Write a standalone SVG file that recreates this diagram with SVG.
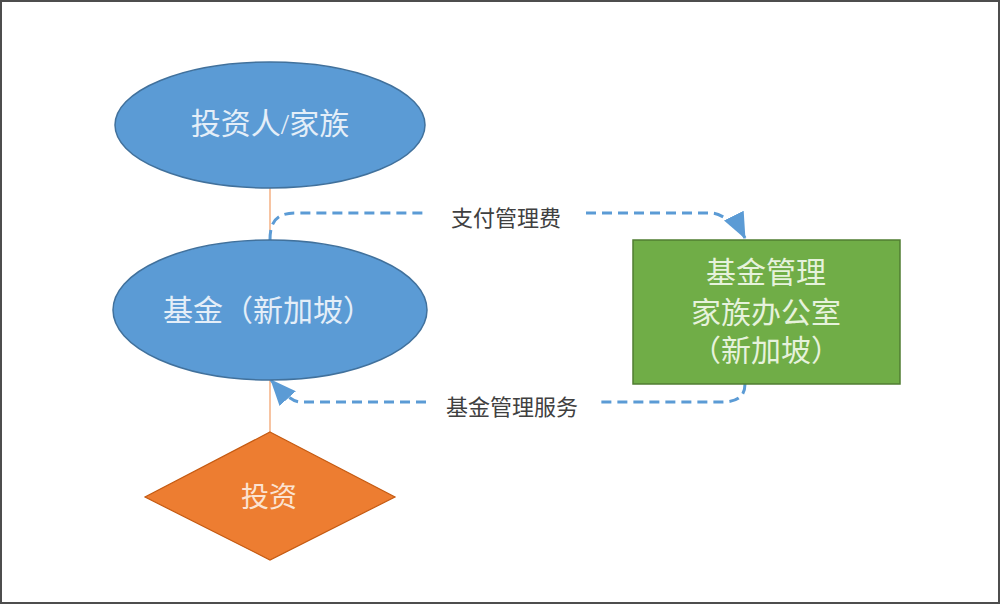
<svg xmlns="http://www.w3.org/2000/svg" width="1000" height="604" viewBox="0 0 1000 604">
  <style>
    .ell { fill: #5B9BD5; stroke: #41719C; stroke-width: 1.5; }
    .nodetext { font-family: "Liberation Serif", "Noto Sans CJK SC", serif; font-size: 30px; fill: #E4EEF8; text-anchor: middle; dominant-baseline: central; }
    .lbl { font-family: "Liberation Serif", "Noto Sans CJK SC", serif; font-size: 22px; fill: #404040; text-anchor: middle; dominant-baseline: central; }
    .dash { fill: none; stroke: #5B9BD5; stroke-width: 3; stroke-dasharray: 10 6; }
    .solid { stroke: #F4B183; stroke-width: 1.5; }
  </style>
  <defs>
    <marker id="arrow" viewBox="0 0 26 22" refX="25" refY="11" markerWidth="26" markerHeight="22" markerUnits="userSpaceOnUse" orient="auto">
      <path d="M0,0 L26,11 L0,22 Z" fill="#5B9BD5"/>
    </marker>
  </defs>
  <rect x="1" y="1" width="998" height="602" fill="#FFFFFF" stroke="#4D4D4D" stroke-width="2"/>

  <g id="connectors">
    <line class="solid" x1="270" y1="188" x2="270" y2="240"/>
    <line class="solid" x1="270" y1="380" x2="270" y2="432"/>
    <path class="dash" d="M270,240 C270,222 276,213 296,213 L428,213"/>
    <path class="dash" d="M586,213 L712,213 C722,213 740,228 745,238" marker-end="url(#arrow)"/>
    <path class="dash" d="M745,384 C745,396 738,402 722,402 L600,402"/>
    <path class="dash" d="M426,402 L300,402 C292,402 280,390 271,380" marker-end="url(#arrow)"/>
    <text class="lbl" x="506" y="218">支付管理费</text>
    <text class="lbl" x="512" y="407">基金管理服务</text>
  </g>

  <g id="investor">
    <ellipse class="ell" cx="270" cy="125" rx="155" ry="63"/>
    <text class="nodetext" x="270" y="123">投资人/家族</text>
  </g>

  <g id="fund">
    <ellipse class="ell" cx="270" cy="310" rx="157" ry="70"/>
    <text class="nodetext" x="268" y="310">基金（新加坡）</text>
  </g>

  <g id="invest">
    <polygon points="270,432 395,497 270,560 145,497" fill="#ED7D31" stroke="#C55A11" stroke-width="1.2"/>
    <text class="nodetext" x="269" y="497" style="fill:#FBE3D2;font-size:28px">投资</text>
  </g>

  <g id="familyoffice">
    <rect x="633" y="240" width="267" height="144" fill="#70AD47" stroke="#507E32" stroke-width="1.5"/>
    <text class="nodetext" x="766" y="272" style="fill:#E6F2DC">基金管理</text>
    <text class="nodetext" x="766" y="312" style="fill:#E6F2DC">家族办公室</text>
    <text class="nodetext" x="766" y="350" style="fill:#E6F2DC">（新加坡）</text>
  </g>
</svg>
